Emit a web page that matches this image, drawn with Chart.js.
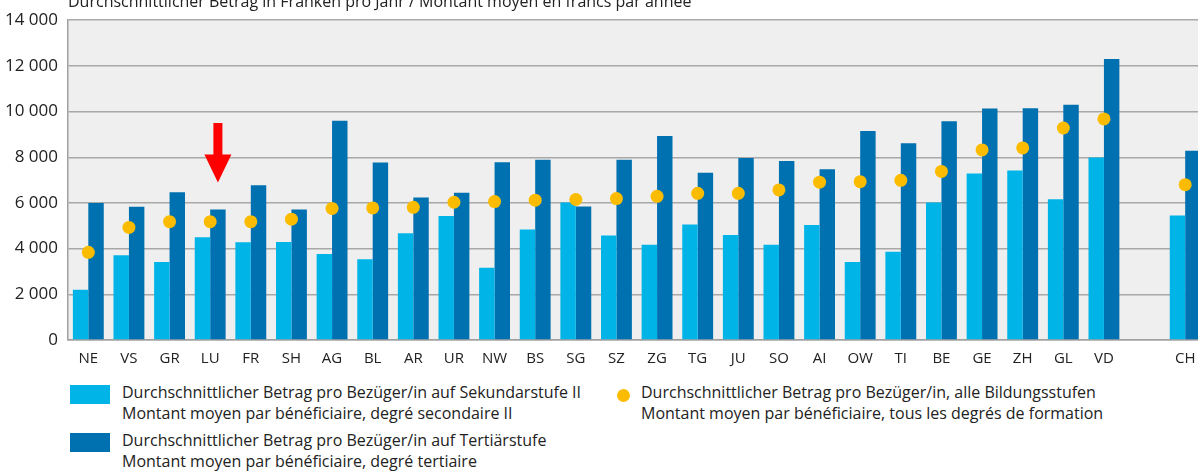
<!DOCTYPE html>
<html>
<head>
<meta charset="utf-8">
<script src="https://cdn.jsdelivr.net/npm/chart.js@4"></script>
<style>
  html, body { margin: 0; padding: 0; background: #fff; overflow: hidden; }
  body { width: 1198px; height: 471px; position: relative; font-family: "Open Sans", sans-serif; color: #222; }
  #wrap { position: absolute; left: 0; top: 0; width: 1212px; height: 372px; }
  .leg { position: absolute; font-size: 16px; line-height: 21px; color: #222; white-space: nowrap; }
  .box { position: absolute; width: 40px; height: 19px; }
  .dot { position: absolute; width: 13px; height: 13px; border-radius: 50%; background: #fbbc00; }
</style>
</head>
<body>
<div id="wrap"><canvas id="chart"></canvas></div>

<div class="box" style="left:70px; top:385px; background:#00b4e8"></div>
<div class="leg" style="left:122px; top:382px">Durchschnittlicher Betrag pro Bezüger/in auf Sekundarstufe II<br>Montant moyen par bénéficiaire, degré secondaire II</div>
<div class="box" style="left:70px; top:433px; background:#0071b0"></div>
<div class="leg" style="left:122px; top:430px">Durchschnittlicher Betrag pro Bezüger/in auf Tertiärstufe<br>Montant moyen par bénéficiaire, degré tertiaire</div>
<div class="dot" style="left:617px; top:389px"></div>
<div class="leg" style="left:641px; top:382px">Durchschnittlicher Betrag pro Bezüger/in, alle Bildungsstufen<br>Montant moyen par bénéficiaire, tous les degrés de formation</div>

<script>
// Kantone (leere Kategorie als Abstand vor CH)
const cantons = ["NE", "VS", "GR", "LU", "FR", "SH", "AG", "BL", "AR", "UR", "NW", "BS", "SG", "SZ", "ZG",
                 "TG", "JU", "SO", "AI", "OW", "TI", "BE", "GE", "ZH", "GL", "VD", "", "CH"];

// Durchschnittlicher Betrag pro Bezüger/in, Sekundarstufe II
const secondary = [2200, 3710, 3410, 4500, 4280, 4290, 3770, 3540, 4670, 5430, 3160, 4840, 6020, 4580, 4170,
                   5060, 4600, 4170, 5030, 3410, 3860, 6020, 7290, 7420, 6160, 7990, null, 5450];

// Durchschnittlicher Betrag pro Bezüger/in, Tertiärstufe
const tertiary = [6000, 5830, 6470, 5710, 6770, 5710, 9600, 7770, 6240, 6450, 7780, 7890, 5840, 7890, 8930,
                  7320, 7970, 7840, 7470, 9150, 8610, 9580, 10130, 10150, 10300, 12300, null, 8280];

// Durchschnittlicher Betrag pro Bezüger/in, alle Bildungsstufen
const allLevels = [3840, 4930, 5180, 5180, 5180, 5290, 5760, 5780, 5810, 6030, 6060, 6120, 6150, 6190, 6290,
                   6420, 6420, 6570, 6910, 6930, 6990, 7380, 8320, 8410, 9280, 9680, null, 6800];

const yTicks = [0, 2000, 4000, 6000, 8000, 10000, 12000, 14000];

const titleText = "Durchschnittlicher Betrag in Franken pro Jahr / Montant moyen en francs par année";
const FONT = "'Open Sans', sans-serif";

// Hintergrund der Zeichenfläche und Titel
const backgroundPlugin = {
    id: "plotBackground",
    beforeDraw(chart) {
        const { ctx, chartArea } = chart;
        ctx.save();
        ctx.fillStyle = "#efefef";
        ctx.fillRect(chartArea.left, chartArea.top, chartArea.right - chartArea.left, chartArea.bottom - chartArea.top);
        ctx.restore();
    },
    afterDraw(chart) {
        const { ctx, chartArea } = chart;
        ctx.save();
        ctx.font = "16px " + FONT;
        ctx.fillStyle = "#222";
        ctx.textBaseline = "alphabetic";
        ctx.fillText(titleText, chartArea.left, 7);
        ctx.restore();
    }
};

// Roter Pfeil über LU (über dem dunkelblauen Balken)
const arrowPlugin = {
    id: "arrow",
    afterDatasetsDraw(chart) {
        const { ctx } = chart;
        const y = chart.scales.y;
        const bar = chart.getDatasetMeta(1).data[3];
        const x = bar.x;
        const top = y.getPixelForValue(9500);
        const neck = y.getPixelForValue(8120);
        const tip = y.getPixelForValue(6900);
        ctx.save();
        ctx.fillStyle = "#ff0000";
        ctx.beginPath();
        ctx.moveTo(x - 4.5, top);
        ctx.lineTo(x + 4.5, top);
        ctx.lineTo(x + 4.5, neck);
        ctx.lineTo(x + 13.5, neck);
        ctx.lineTo(x, tip);
        ctx.lineTo(x - 13.5, neck);
        ctx.lineTo(x - 4.5, neck);
        ctx.closePath();
        ctx.fill();
        ctx.restore();
    }
};

const ctx = document.getElementById("chart").getContext("2d");

// "order" bestimmt auch die Reihenfolge der Balken in der Gruppe: hellblau links, dunkelblau rechts
new Chart(ctx, {
    data: {
        labels: cantons,
        datasets: [
            {
                type: "bar",
                label: "Sekundarstufe II",
                data: secondary,
                backgroundColor: "#00b4e8",
                categoryPercentage: 0.76,
                barPercentage: 1.0,
                order: 1
            },
            {
                type: "bar",
                label: "Tertiärstufe",
                data: tertiary,
                backgroundColor: "#0071b0",
                categoryPercentage: 0.76,
                barPercentage: 1.0,
                order: 2
            },
            {
                type: "line",
                label: "alle Bildungsstufen",
                data: allLevels,
                showLine: false,
                pointRadius: 6.5,
                pointHoverRadius: 6.5,
                pointBackgroundColor: "#fbbc00",
                pointBorderWidth: 0,
                order: 0
            }
        ]
    },
    options: {
        responsive: true,
        maintainAspectRatio: false,
        animation: false,
        layout: { padding: { top: 18, right: 3, left: 0, bottom: 0 } },
        plugins: {
            legend: { display: false },
            tooltip: { enabled: false }
        },
        scales: {
            x: {
                grid: { display: false, drawTicks: false },
                border: { color: "#a0a0a0", width: 1.5 },
                ticks: { color: "#222", font: { family: FONT, size: 15 }, padding: 10, maxRotation: 0, autoSkip: false },
                afterFit(scale) { scale.height = 32; }
            },
            y: {
                min: 0,
                max: 14000,
                afterBuildTicks(scale) { scale.ticks = yTicks.map(v => ({ value: v })); },
                grid: { color: "#a8a8a8", lineWidth: 1.5, drawTicks: false },
                border: { color: "#a0a0a0", width: 1.5 },
                ticks: {
                    color: "#222",
                    font: { family: FONT, size: 17 },
                    padding: 10,
                    callback: v => v.toLocaleString("en-US").replace(",", " ")
                },
                afterFit(scale) { scale.width = 68; }
            }
        }
    },
    plugins: [backgroundPlugin, arrowPlugin]
});
</script>
</body>
</html>
